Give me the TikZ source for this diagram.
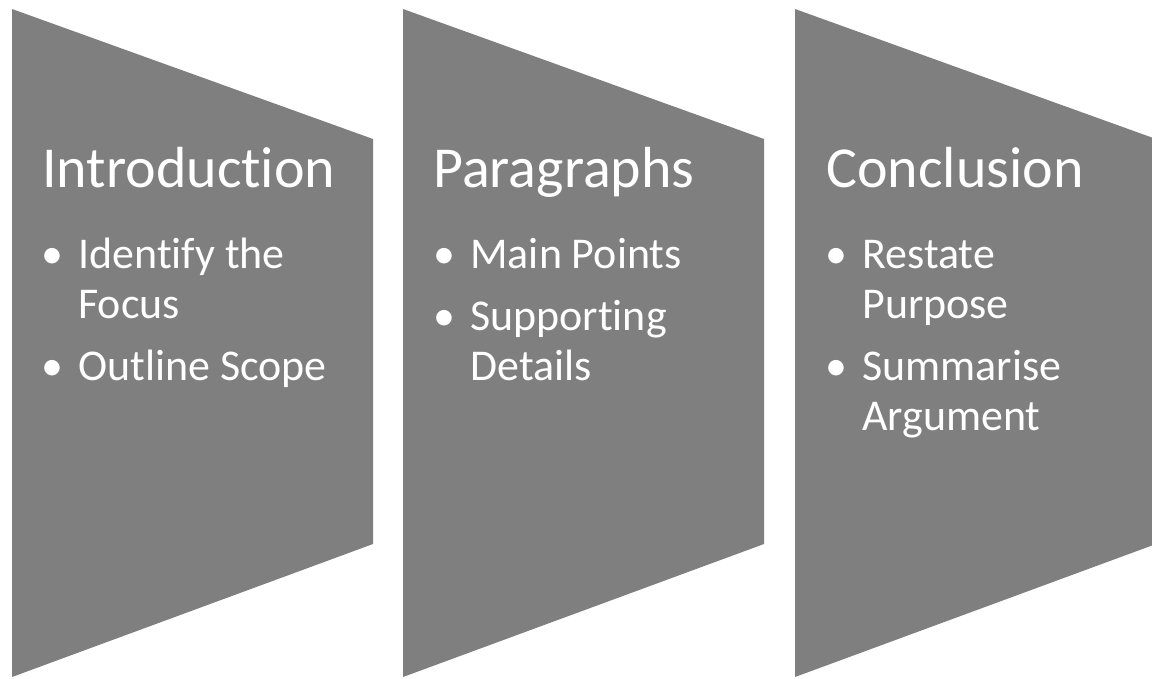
\documentclass[tikz,border=0pt]{standalone}
\usepackage{fontspec}
\setmainfont{Carlito}[Ligatures=NoCommon]
\definecolor{panelgray}{RGB}{127,127,127}

\begin{document}
\begin{tikzpicture}[x=0.02cm, y=-0.02cm,
	head/.style={anchor=base west, inner sep=0, text=white, font=\fontsize{33}{39}\selectfont},
	item/.style={anchor=base west, inner sep=0, text=white, font=\fontsize{25}{28}\selectfont}]
	\useasboundingbox (0,0) rectangle (1152,679);
	\begin{scope}
		\clip (0,0) rectangle (1152,679);
		\foreach \x in {12,403,795}
			\fill[panelgray] (\x,9) -- ++(361,130) -- ++(0,405) -- ++(-361,133) -- cycle;
	\end{scope}

	% Introduction
	\node[head] (intro) at (42,187) {Introduction};
	\node[item] (introdot1) at (41,268) {\textbullet};
	\node[item] (introa) at (78,268) {Identify the};
	\node[item] (introb) at (78,318) {Focus};
	\node[item] (introdot2) at (41,380) {\textbullet};
	\node[item] (introc) at (78,380) {Outline Scope};

	% Paragraphs
	\node[head] (para) at (433,187) {Paragraphs};
	\node[item] (paradot1) at (433,268) {\textbullet};
	\node[item] (paraa) at (470,268) {Main Points};
	\node[item] (paradot2) at (433,330) {\textbullet};
	\node[item] (parab) at (470,330) {Supporting};
	\node[item] (parac) at (470,380) {Details};

	% Conclusion
	\node[head] (concl) at (826,187) {Conclusion};
	\node[item] (concldot1) at (825,268) {\textbullet};
	\node[item] (concla) at (862,268) {Restate};
	\node[item] (conclb) at (862,318) {Purpose};
	\node[item] (concldot2) at (825,380) {\textbullet};
	\node[item] (conclc) at (862,380) {Summarise};
	\node[item] (concld) at (862,430) {Argument};
\end{tikzpicture}
\end{document}
